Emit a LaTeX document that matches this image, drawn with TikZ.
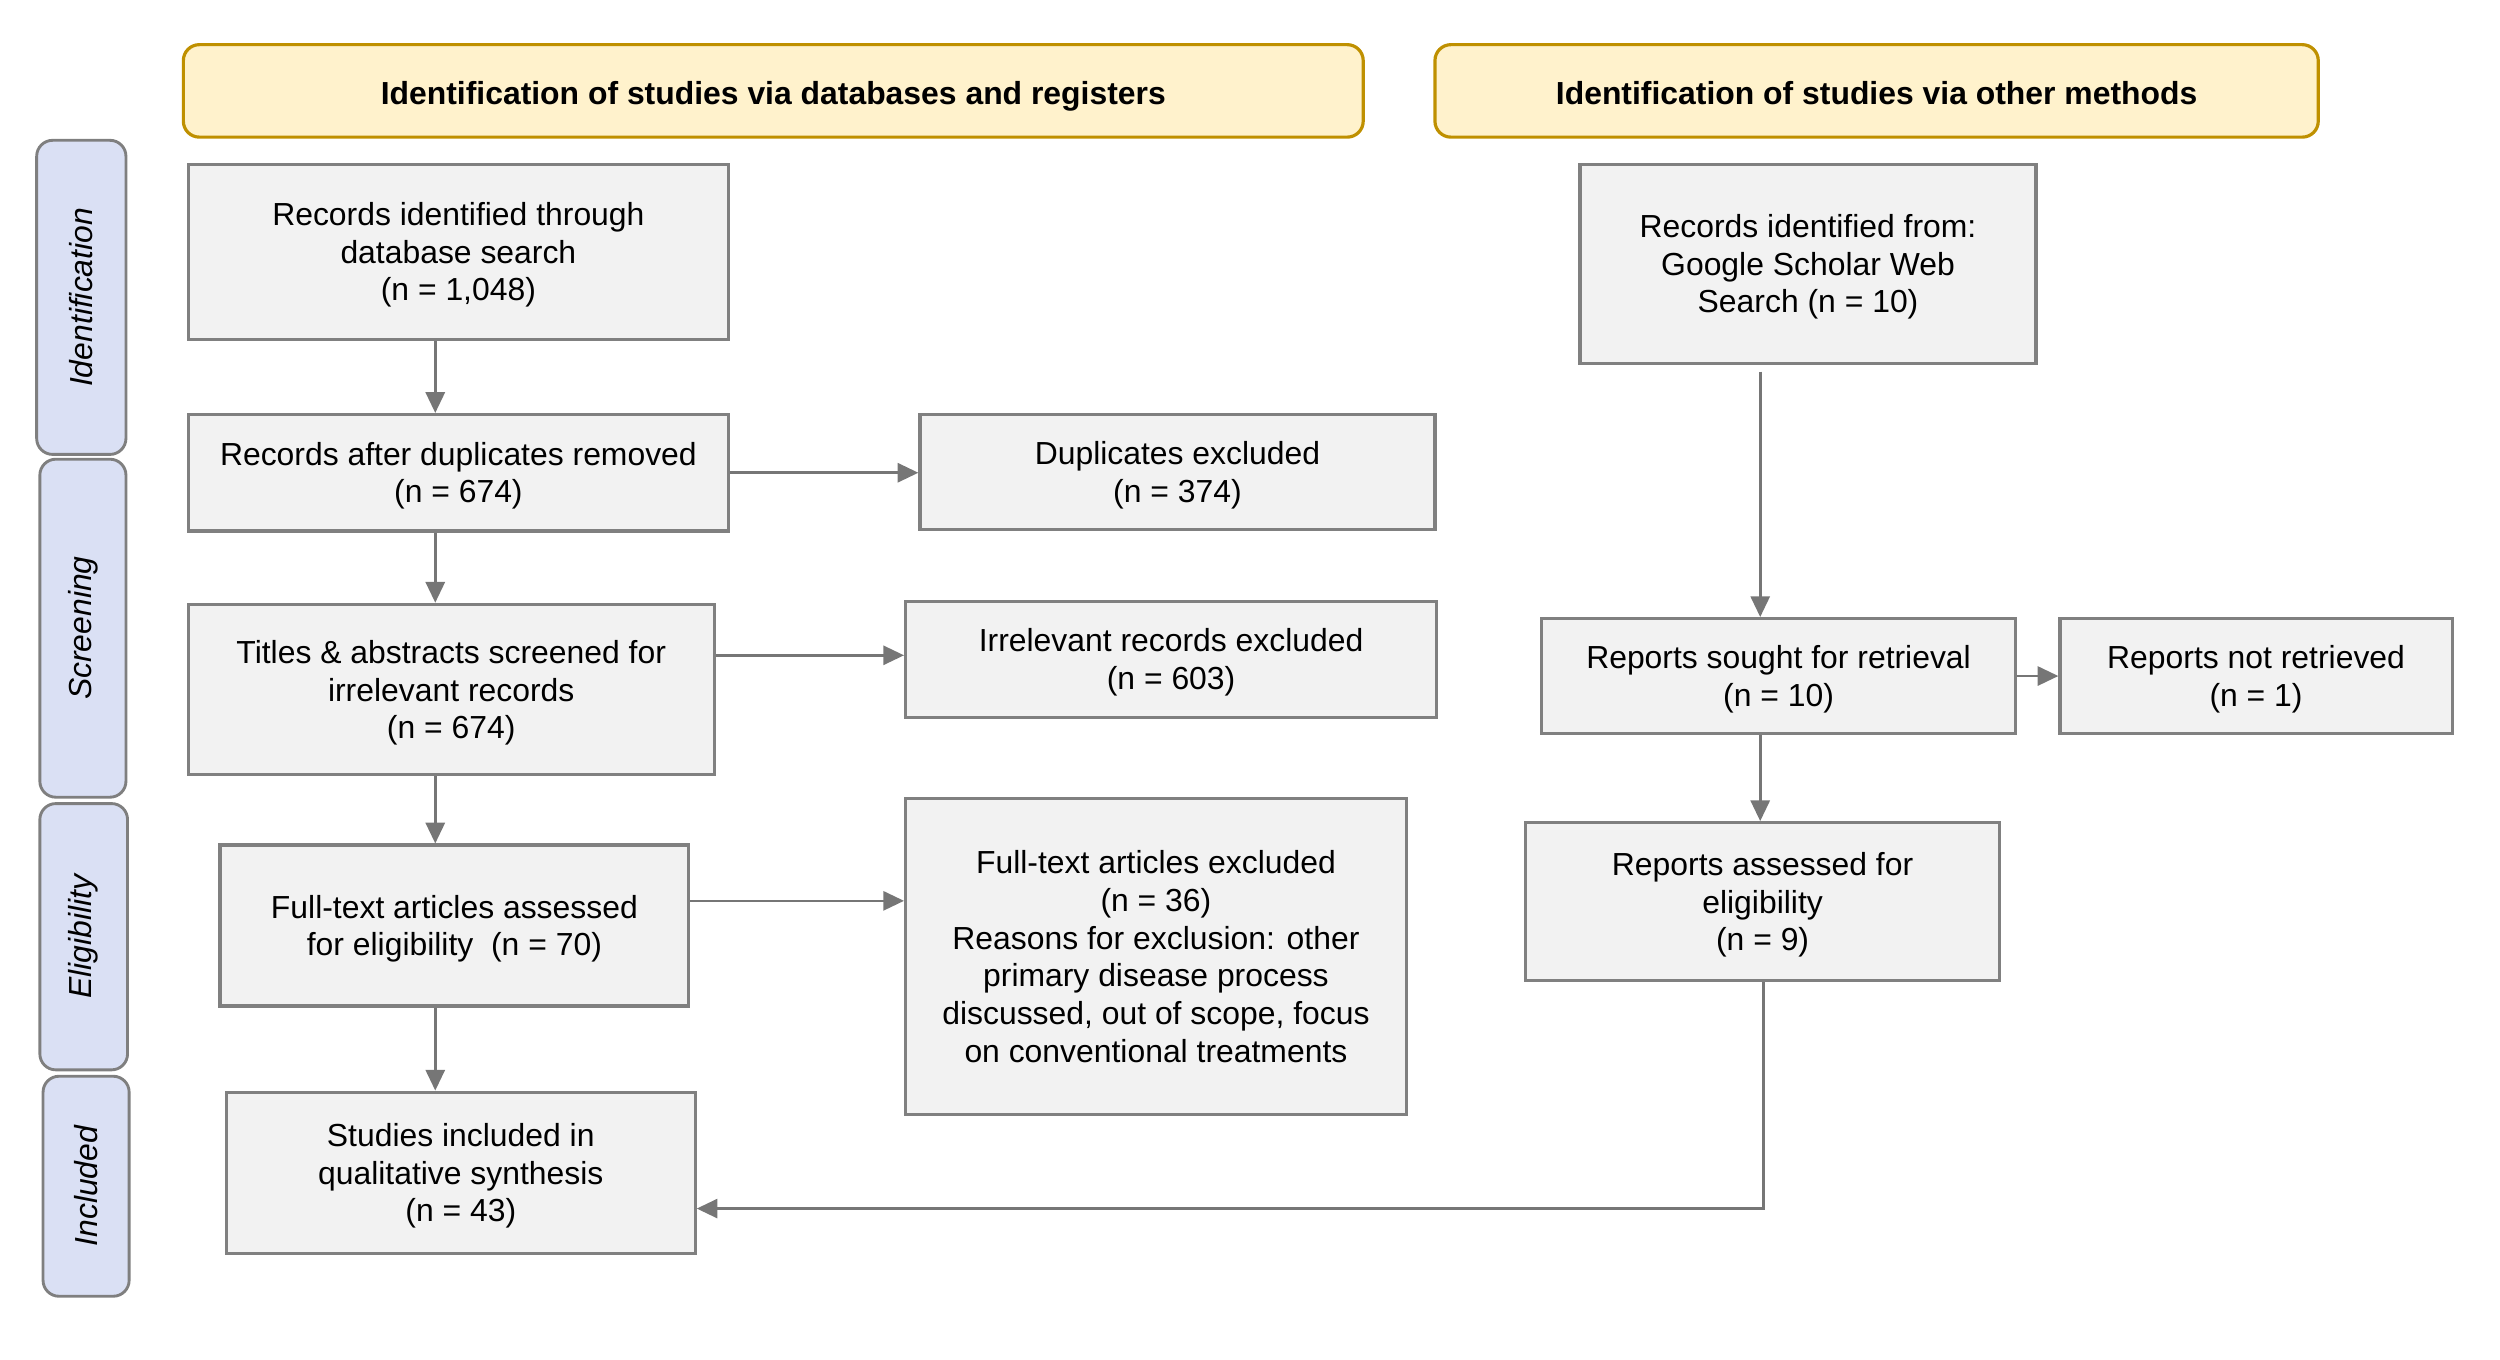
\documentclass[tikz,border=0pt]{standalone}
\usepackage{fontspec}
\setmainfont{Liberation Sans}
\usetikzlibrary{arrows.meta,calc}
\definecolor{hdrfill}{HTML}{FFF2CC}
\definecolor{hdrline}{HTML}{BF9000}
\definecolor{sidefill}{HTML}{DAE0F4}
\definecolor{sideline}{HTML}{7F7F7F}
\definecolor{boxfill}{HTML}{F2F2F2}
\definecolor{boxline}{HTML}{808080}
\definecolor{arrline}{HTML}{767676}
\newcommand{\boxtxt}[1]{\begin{tabular}{@{}c@{}}\rule{0pt}{10.7pt}#1\end{tabular}}
\begin{document}
\begin{tikzpicture}[x=0.5pt,y=-0.5pt,
  every node/.style={font=\fontsize{10}{11.8}\selectfont, inner sep=0pt, align=center},
  hdr/.style={draw=hdrline, line width=1pt, fill=hdrfill, rounded corners=5pt, minimum height=29pt, text height=9.4pt, text depth=0.6pt, font=\fontsize{10}{11.8}\selectfont\bfseries},
  side/.style={draw=sideline, line width=0.9pt, fill=sidefill, rounded corners=5pt, rotate=90, font=\fontsize{10}{11.8}\selectfont\itshape},
  pbox/.style={draw=boxline, line width=1pt, fill=boxfill},
  arr/.style={draw=arrline, line width=0.8pt, -{Triangle[length=6.5pt,width=6pt]}}
]
\useasboundingbox (0,0) rectangle (1568,852.4);
% headers
\node[hdr, minimum width=370pt] (h1) at (485,57) {Identification of studies via databases and registers};
\node[hdr, minimum width=277pt] (h2) at (1177,57) {Identification of studies via other methods};
% side labels
\node[side, minimum width=98.5pt, minimum height=28pt] (s1) at (51,186.5) {Identification};
\node[side, minimum width=106pt, minimum height=27pt] (s2) at (52,394) {Screening};
\node[side, minimum width=83.5pt, minimum height=27.5pt] (s3) at (52.5,587.5) {Eligibility};
\node[side, minimum width=69pt, minimum height=27pt] (s4) at (54,744) {Included};
% left column
\node[pbox, minimum width=169.5pt, minimum height=55pt] (A) at (287.5,158) {\boxtxt{Records identified through\\database search\\(n = 1,048)}};
\node[pbox, minimum width=169.5pt, minimum height=36.5pt] (B) at (287.5,296.5) {\boxtxt{Records after duplicates removed\\(n = 674)}};
\node[pbox, minimum width=161.5pt, minimum height=36pt] (C) at (738.5,296) {\boxtxt{Duplicates excluded\\(n = 374)}};
\node[pbox, minimum width=165pt, minimum height=53.5pt] (D) at (283,432.5) {\boxtxt{Titles \& abstracts screened for\\irrelevant records\\(n = 674)}};
\node[pbox, minimum width=166.5pt, minimum height=36.5pt] (E) at (734.5,413.5) {\boxtxt{Irrelevant records excluded\\(n = 603)}};
\node[pbox, minimum width=147pt, minimum height=50.5pt] (F) at (285,580.5) {\boxtxt{Full-text articles assessed\\for eligibility\ \ (n = 70)}};
\node[pbox, minimum width=157pt, minimum height=99pt] (G) at (725,600) {\boxtxt{Full-text articles excluded\\(n = 36)\\Reasons for exclusion: other\\primary disease process\\discussed, out of scope, focus\\on conventional treatments}};
\node[pbox, minimum width=147pt, minimum height=50.5pt] (H) at (289,735.5) {\boxtxt{Studies included in\\qualitative synthesis\\(n = 43)}};
% right column
\node[pbox, minimum width=143pt, minimum height=62.5pt] (I) at (1134,165.5) {\boxtxt{Records identified from:\\Google Scholar Web\\Search (n = 10)}};
\node[pbox, minimum width=148.5pt, minimum height=36pt] (J) at (1115.5,424) {\boxtxt{Reports sought for retrieval\\(n = 10)}};
\node[pbox, minimum width=123pt, minimum height=36pt] (K) at (1415,424) {\boxtxt{Reports not retrieved\\(n = 1)}};
\node[pbox, minimum width=148.5pt, minimum height=49.5pt] (L) at (1105.5,565.5) {\boxtxt{Reports assessed for\\eligibility\\(n = 9)}};
% helper coordinates
\coordinate (xl) at (273,0);
\coordinate (xr) at (1104,0);
\coordinate (xr2) at (1106,0);
\coordinate (yfg) at (0,565);
\coordinate (yde) at (0,411);
\coordinate (yh) at (0,758);
\coordinate (istart) at (1104,233);
% arrows
\draw[arr] (A.south -| xl) -- (B.north -| xl);
\draw[arr] (B.south -| xl) -- (D.north -| xl);
\draw[arr] (D.south -| xl) -- (F.north -| xl);
\draw[arr] (F.south -| xl) -- (H.north -| xl);
\draw[arr] (B.east) -- (C.west |- B.east);
\draw[arr] (D.east |- yde) -- (E.west |- yde);
\draw[arr] (F.east |- yfg) -- (G.west |- yfg);
\draw[arr] (istart) -- (J.north -| xr);
\draw[arr] (J.east) -- (K.west);
\draw[arr] (J.south -| xr) -- (L.north -| xr);
\draw[arr] (L.south -| xr2) |- (H.east |- yh);
\end{tikzpicture}
\end{document}
